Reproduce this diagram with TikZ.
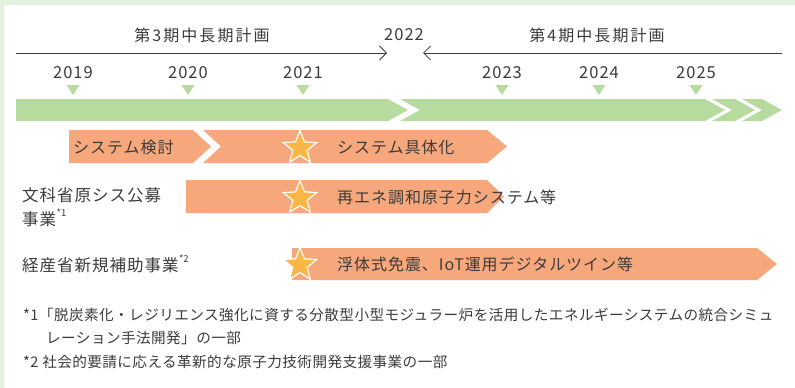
\documentclass[tikz,border=0pt]{standalone}
\usepackage{fontspec}
\setmainfont{Noto Sans CJK JP}
\newfontfamily\ttlfont[LetterSpace=13]{Noto Sans CJK JP}
\newfontfamily\barfont[LetterSpace=6]{Noto Sans CJK JP}
\newfontfamily\fnfont[LetterSpace=3]{Noto Sans CJK JP}
\usetikzlibrary{shapes.geometric,arrows.meta}
\definecolor{framegreen}{HTML}{E3F1DE}
\definecolor{bargreen}{HTML}{B7DB9F}
\definecolor{barorange}{HTML}{F6A77C}
\definecolor{staryellow}{HTML}{FBB746}
\definecolor{txt}{HTML}{3C3C3C}
\begin{document}
\begin{tikzpicture}[x=1pt,y=-1pt,
  lbl/.style={inner sep=0pt,text=txt,font=\barfont\fontsize{16}{18}\selectfont},
  yearlbl/.style={inner sep=0pt,text=txt,font=\barfont\fontsize{16.5}{18}\selectfont},
  ttl/.style={inner sep=0pt,text=txt,font=\ttlfont\fontsize{16}{18}\selectfont},
  fn/.style={inner sep=0pt,text=txt,anchor=west,font=\fnfont\fontsize{14.6}{18}\selectfont},
  supmark/.style={inner sep=0pt,text=txt,font=\fontsize{9.5}{10}\selectfont},
  period/.style={draw=txt,line width=0.8pt},
  tri/.style={fill=bargreen},
  gseg/.style={fill=bargreen},
  oseg/.style={fill=barorange},
  starmark/.style={star,star points=5,star point ratio=2.3,minimum size=35pt,inner sep=0pt,
    fill=staryellow,draw=white,line width=1.2pt}
]
\useasboundingbox (0,0) rectangle (795,388);
\fill[framegreen] (0,0) rectangle (795,388);
\fill[white] (4,5) rectangle (795,388);

% period lines
\coordinate (p3a) at (16,53);
\coordinate (p3b) at (387,53);
\coordinate (p4a) at (782,53);
\coordinate (p4b) at (423,53);
\draw[period,-{Straight Barb[length=7pt,width=14pt]}] (p3a) -- (p3b);
\draw[period,-{Straight Barb[length=7pt,width=14pt]}] (p4a) -- (p4b);
\node[ttl] (t3) at (202,35) {第3期中長期計画};
\node[ttl] (t4) at (597,35) {第4期中長期計画};
\node[yearlbl] (y2022) at (404,35) {2022};

% years and triangles
\foreach \yx/\yl in {73/2019,188/2020,303/2021,502/2023,599/2024,696/2025}{
  \node[yearlbl] (y\yl) at (\yx,73) {\yl};
  \fill[tri] (\yx-6.5,85) -- (\yx+6.5,85) -- (\yx,95) -- cycle;
}

% green bar
\fill[gseg] (16,99) -- (388,99) -- (408,110) -- (388,121) -- (16,121) -- cycle;
\fill[gseg] (400,99) -- (705,99) -- (725,110) -- (705,121) -- (400,121) -- (420,110) -- cycle;
\fill[gseg] (712,99) -- (735,99) -- (755,110) -- (735,121) -- (712,121) -- (732,110) -- cycle;
\fill[gseg] (742,99) -- (762,99) -- (782,110) -- (762,121) -- (742,121) -- (762,110) -- cycle;

% orange bars
\fill[oseg] (69,130) -- (193,130) -- (211,146.5) -- (193,163) -- (69,163) -- cycle;
\fill[oseg] (203,130) -- (487,130) -- (507,146.5) -- (487,163) -- (203,163) -- (221,146.5) -- cycle;
\fill[oseg] (186,180) -- (487,180) -- (504,196.5) -- (487,213) -- (186,213) -- cycle;
\fill[oseg] (292,248) -- (757,248) -- (777,264) -- (757,280) -- (292,280) -- cycle;

% stars
\node[starmark] (s1) at (300,148) {};
\node[starmark] (s2) at (300,198) {};
\node[starmark] (s3) at (300,265) {};

% bar texts
\node[lbl,anchor=west] (b1) at (73,147) {システム検討};
\node[lbl,anchor=west] (b2) at (337,147) {システム具体化};
\node[lbl,anchor=west] (b3) at (337,197) {再エネ調和原子力システム等};
\node[lbl,anchor=west] (b4) at (337,264) {浮体式免震、IoT運用デジタルツイン等};

% left labels
\node[lbl,anchor=west,font=\barfont\fontsize{16.5}{18}\selectfont] (l1) at (22,195) {文科省原シス公募};
\node[lbl,anchor=west,font=\barfont\fontsize{16.5}{18}\selectfont] (l1b) at (22,219) {事業};
\node[supmark,anchor=west] (l1s) at (l1b.east) [yshift=6pt] {*1};
\node[lbl,anchor=west,font=\barfont\fontsize{16.5}{18}\selectfont] (l2) at (22,265) {経産省新規補助事業};
\node[supmark,anchor=west] (l2s) at (l2.east) [yshift=6pt] {*2};

% footnotes
\node[fn] (f1) at (23,315) {*1「脱炭素化・レジリエンス強化に資する分散型小型モジュラー炉を活用したエネルギーシステムの統合シミュ};
\node[fn] (f1b) at (46,338) {レーション手法開発」の一部};
\node[fn] (f2) at (23,362) {*2 社会的要請に応える革新的な原子力技術開発支援事業の一部};
\end{tikzpicture}
\end{document}
